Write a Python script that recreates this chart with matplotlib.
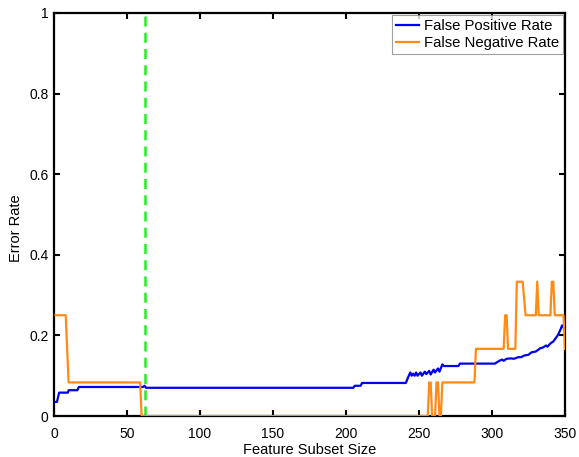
import matplotlib
matplotlib.use("Agg")
import matplotlib.pyplot as plt

plt.rcParams['font.family'] = ['Liberation Sans', 'DejaVu Sans']

# False Positive Rate (x, y)
fpr_x = [1, 2, 3.5, 9.5, 10, 16, 17, 61, 62, 63, 205, 206, 210, 211, 241,
         243, 244, 245, 246, 247, 248, 249, 251, 252, 254, 255, 257, 258, 260,
         261, 263, 264, 266, 267, 277, 278, 302, 305, 307, 308, 310, 313, 315,
         318, 320, 322, 325, 327, 330, 333, 335, 337, 338, 340, 342, 344, 345,
         347, 348, 349, 350]
fpr_y = [0.035, 0.035, 0.058, 0.058, 0.064, 0.064, 0.072, 0.072, 0.075, 0.070,
         0.070, 0.075, 0.075, 0.082, 0.082,
         0.100, 0.108, 0.100, 0.105, 0.100, 0.108, 0.100, 0.108, 0.100, 0.110,
         0.104, 0.112, 0.103, 0.115, 0.108, 0.118, 0.110, 0.128, 0.124, 0.124,
         0.130, 0.130, 0.137, 0.140, 0.137, 0.142, 0.143, 0.142, 0.146, 0.146,
         0.150, 0.152, 0.158, 0.160, 0.168, 0.170, 0.175, 0.172, 0.180, 0.185,
         0.195, 0.200, 0.215, 0.225, 0.220, 0.210]

# False Negative Rate (x, y)
fnr_x = [1, 8, 10, 59, 60, 256, 257, 258, 259, 261, 262, 263, 264, 265, 266,
         288, 289, 308, 309, 310, 311, 316, 317, 321, 323, 330, 331, 332, 340,
         341, 342, 343, 349, 350]
fnr_y = [0.25, 0.25, 0.0833, 0.0833, 0.0, 0.0, 0.0833, 0.0833, 0.0, 0.0,
         0.0833, 0.0833, 0.0, 0.0, 0.0833, 0.0833, 0.1667, 0.1667, 0.25, 0.25,
         0.1667, 0.1667, 0.3333, 0.3333, 0.25, 0.25, 0.3333, 0.25, 0.25,
         0.3333, 0.3333, 0.25, 0.25, 0.1667]

selected_size = 62

x_ticks = [0, 50, 100, 150, 200, 250, 300, 350]
y_ticks = [0, 0.2, 0.4, 0.6, 0.8, 1]
y_tick_labels = ["0", "0.2", "0.4", "0.6", "0.8", "1"]

fig = plt.figure(figsize=(5.79, 4.57), dpi=100)
ax = fig.add_axes([0.0933, 0.0897, 0.8825, 0.8819])

ax.plot(fpr_x, fpr_y, color='#0000ee', lw=1.6, label='False Positive Rate', zorder=3)
ax.plot(fnr_x, fnr_y, color='#ff8a14', lw=1.6, label='False Negative Rate', zorder=3)
ax.axvline(selected_size, color='#22ee22', lw=1.8, linestyle=(0, (4, 2.5)), zorder=2)

ax.set_xlim(0, 350)
ax.set_ylim(0, 1)
ax.set_xticks(x_ticks)
ax.set_yticks(y_ticks)
ax.set_yticklabels(y_tick_labels)
ax.tick_params(direction='in', top=True, right=True, length=4, width=1.5,
               labelsize=10)
ax.tick_params(axis='x', pad=8)
ax.tick_params(axis='y', pad=4)
for s in ax.spines.values():
    s.set_linewidth(1.6)

ax.set_xlabel('Feature Subset Size', fontsize=10.5, labelpad=1)
ax.set_ylabel('Error Rate', fontsize=10.5)
ax.yaxis.set_label_coords(-0.061, 0.466)

leg = ax.legend(loc='upper right', fontsize=10.7, fancybox=False, borderaxespad=0.15,
                handlelength=1.6, handletextpad=0.3, borderpad=0.25, labelspacing=0.2)
leg.get_frame().set_edgecolor('#888888')
leg.get_frame().set_linewidth(0.8)

fig.savefig('out.png', dpi=100)
